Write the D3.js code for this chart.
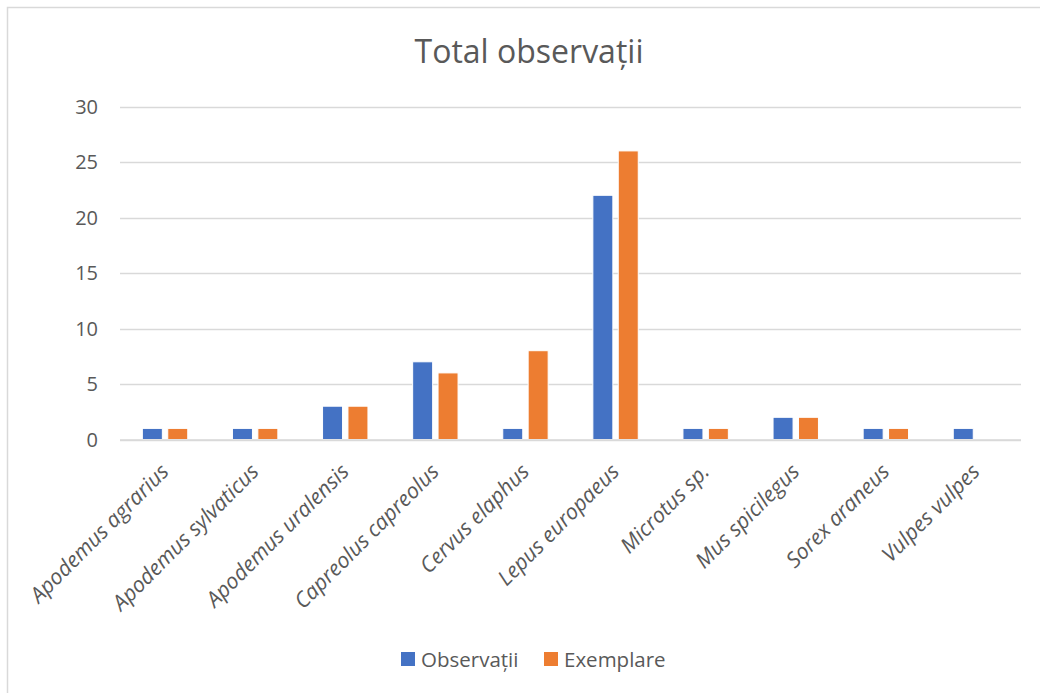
<!DOCTYPE html>
<html><head><meta charset="utf-8">
<script src="https://cdn.jsdelivr.net/npm/d3@7"></script>
<style>
html,body{margin:0;padding:0;background:#fff;overflow:hidden;}
svg{display:block;font-family:"Open Sans",sans-serif;}
</style></head>
<body>
<svg id="chart" width="1040" height="693"></svg>
<script>
const categories = ["Apodemus agrarius","Apodemus sylvaticus","Apodemus uralensis","Capreolus capreolus","Cervus elaphus","Lepus europaeus","Microtus sp.","Mus spicilegus","Sorex araneus","Vulpes vulpes"];
const seriesNames = ["Observații","Exemplare"];
const observatii = [1,1,3,7,1,22,1,2,1,1];
const exemplare  = [1,1,3,6,8,26,1,2,1,0];
const yTicks = [0,5,10,15,20,25,30];
const colors = ["#4472C4","#ED7D31"];
const title = "Total observații";

const svg = d3.select("#chart");
// chart-area border (only top and left edges fall inside the picture)
svg.append("path").attr("d","M7.5,693 V7.5 H1040").attr("fill","none")
  .attr("stroke","#D9D9D9").attr("stroke-width",1.5);

const pLeft=120, pRight=1021, pTop=106.5, pBottom=439.5;
const x = d3.scaleBand().domain(categories).range([pLeft,pRight]).paddingInner(0).paddingOuter(0);
const y = d3.scaleLinear().domain([0,30]).range([pBottom,pTop]);
const bw = 20, gap = 5.4;
const x1 = d3.scaleOrdinal().domain(seriesNames).range([-(bw+gap/2), gap/2]);

// gridlines
svg.append("g").selectAll("line").data(yTicks).join("line")
  .attr("x1",pLeft).attr("x2",pRight)
  .attr("y1",d=>Math.round(y(d))+0.5).attr("y2",d=>Math.round(y(d))+0.5)
  .attr("stroke","#D9D9D9").attr("stroke-width",1.3);

// y axis labels
const yAxis = d3.axisLeft(y).tickValues(yTicks).tickSize(0).tickPadding(0);
const gy = svg.append("g").attr("transform",`translate(98,0)`).call(yAxis);
gy.select(".domain").remove();
gy.selectAll("text").attr("fill","#595959").attr("dy","0.34em").style("font-size","20px").style("font-family","'Open Sans',sans-serif");

// bars
const data = categories.map((c,i)=>({cat:c, vals:[observatii[i],exemplare[i]]}));
const groups = svg.append("g").selectAll("g").data(data).join("g")
  .attr("transform",d=>`translate(${x(d.cat)+x.bandwidth()/2},0)`);
groups.selectAll("rect").data(d=>d.vals.map((v,j)=>({v,s:seriesNames[j],j})).filter(d=>d.v>0)).join("rect")
  .attr("x",d=>x1(d.s)).attr("width",bw)
  .attr("y",d=>y(d.v)).attr("height",d=>y(0)-y(d.v))
  .attr("fill",d=>colors[d.j]).attr("stroke","#fff").attr("stroke-width",1);

// baseline
svg.append("line").attr("x1",pLeft).attr("x2",pRight).attr("y1",440).attr("y2",440)
  .attr("stroke","#D9D9D9").attr("stroke-width",1.5);

// x labels
const xAxis = d3.axisBottom(x).tickSize(0).tickPadding(0);
const gx = svg.append("g").call(xAxis);
gx.select(".domain").remove();
gx.selectAll(".tick").attr("transform",d=>`translate(${x(d)+x.bandwidth()/2+5},473)`);
gx.selectAll("text").attr("y",0).attr("dy",0).attr("text-anchor","end")
  .attr("transform","rotate(-45)")
  .attr("fill","#595959").style("font-size","21.5px").style("font-style","italic")
  .style("font-family","'Open Sans',sans-serif");

// title
svg.append("text").attr("x",529).attr("y",63).attr("text-anchor","middle")
  .attr("fill","#595959").style("font-size","32px").text(title);

// legend
const leg = svg.append("g");
const legX = [401,544];
seriesNames.forEach((s,i)=>{
  leg.append("rect").attr("x",legX[i]).attr("y",652).attr("width",14).attr("height",14).attr("fill",colors[i]);
  leg.append("text").attr("x",legX[i]+20).attr("y",666.5).attr("fill","#595959")
    .style("font-size","20.5px").text(s);
});
</script>
</body></html>
